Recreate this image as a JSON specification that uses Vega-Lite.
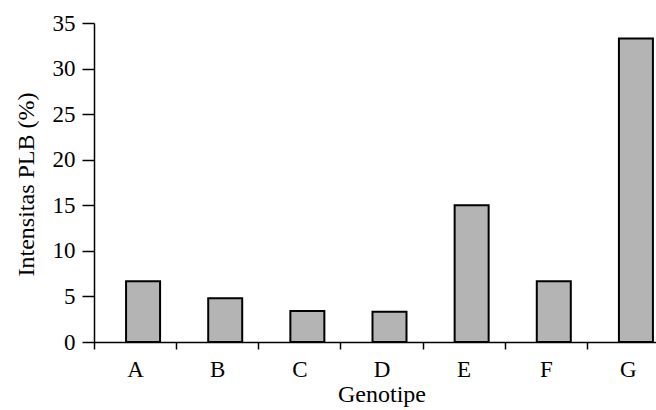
{
  "$schema": "https://vega.github.io/schema/vega-lite/v6.json",
  "width": 562,
  "height": 319,
  "autosize": {"type": "none"},
  "padding": {"left": 94, "top": 23, "right": 0, "bottom": 68},
  "background": "white",
  "config": {
    "view": {"stroke": null},
    "font": "Liberation Serif",
    "axis": {
      "labelFont": "Liberation Serif",
      "titleFont": "Liberation Serif",
      "labelFontSize": 23,
      "titleFontSize": 24,
      "titleFontWeight": "normal",
      "labelColor": "black",
      "titleColor": "black",
      "domainColor": "black",
      "tickColor": "black",
      "domainWidth": 1.5,
      "tickWidth": 1.5,
      "grid": false
    }
  },
  "data": {
    "values": [
      {"genotipe": "A", "intensitas": 6.67},
      {"genotipe": "B", "intensitas": 4.8},
      {"genotipe": "C", "intensitas": 3.4},
      {"genotipe": "D", "intensitas": 3.33},
      {"genotipe": "E", "intensitas": 15.0},
      {"genotipe": "F", "intensitas": 6.67},
      {"genotipe": "G", "intensitas": 33.3}
    ]
  },
  "mark": {"type": "bar", "fill": "#b4b4b4", "stroke": "black", "strokeWidth": 2, "width": 34, "xOffset": 8},
  "encoding": {
    "x": {
      "field": "genotipe",
      "type": "nominal",
      "sort": null,
      "scale": {"range": [0, 575], "paddingInner": 0, "paddingOuter": 0},
      "axis": {
        "title": "Genotipe",
        "labelAngle": 0,
        "tickBand": "extent",
        "tickSize": 7,
        "labelPadding": 9,
        "labelBaseline": "top",
        "titleBaseline": "alphabetic",
        "titleY": 59
      }
    },
    "y": {
      "field": "intensitas",
      "type": "quantitative",
      "scale": {"domain": [0, 35], "nice": false},
      "axis": {
        "title": "Intensitas PLB (%)",
        "values": [0, 5, 10, 15, 20, 25, 30, 35],
        "tickSize": 12,
        "labelPadding": 7,
        "titleX": -61,
        "titleY": 161,
        "titleAngle": -90,
        "titleBaseline": "alphabetic",
        "titleAlign": "center"
      }
    }
  }
}
